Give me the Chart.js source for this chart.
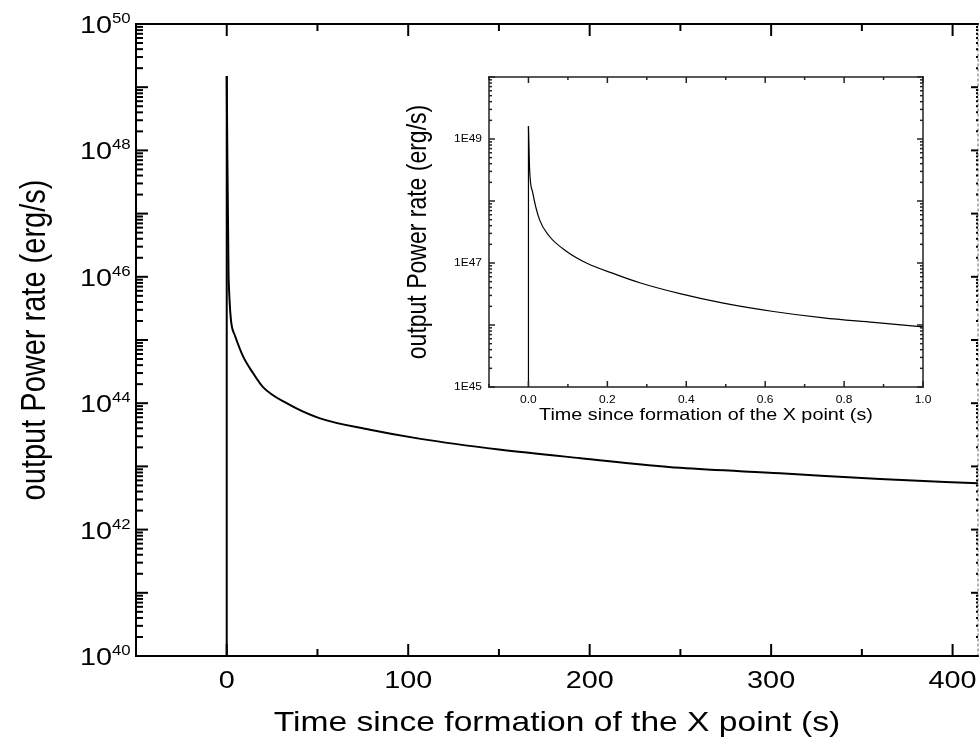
<!DOCTYPE html>
<html>
<head>
<meta charset="utf-8">
<script src="https://cdn.jsdelivr.net/npm/chart.js@4.4.0/dist/chart.umd.min.js"></script>
<style>
    html, body { margin: 0; padding: 0; background: #fff; }
    #wrap { position: relative; width: 979px; height: 745px; overflow: hidden; }
    #main { position: absolute; left: 0; top: 0; }
    #inset { position: absolute; left: 380px; top: 50px; }
</style>
</head>
<body>
<div id="wrap">
    <canvas id="main" width="979" height="745"></canvas>
    <canvas id="inset" width="580" height="390"></canvas>
</div>
<script>
// Main panel: time (s) and output power (erg/s)
const mainTime  = [0,    0,      1,      4.4,    9,      14.5,   20,     33,     51,     79,     106,     150,     195,     250,    305,    360,    414];
const mainPower = [1e40, 1.5e49, 1.0e46, 1.2e45, 5.5e44, 3.0e44, 1.8e44, 1.0e44, 5.8e43, 3.8e43, 2.75e43, 1.85e43, 1.35e43, 9.5e42, 7.8e42, 6.3e42, 5.4e42];

// Inset: first second after formation
const insetTime  = [0,    0,      0.003,  0.011,   0.028, 0.053,  0.096,   0.147, 0.223,  0.282,  0.384,  0.494,   0.621,   0.748,  0.875,  1.0];
const insetPower = [1e45, 1.6e49, 3.2e48, 1.35e48, 5.0e47, 2.7e47, 1.55e47, 1.0e47, 6.5e46, 4.8e46, 3.2e46, 2.25e46, 1.65e46, 1.3e46, 1.1e46, 9.3e45];

// Tick labels
const mainXTicks = [0, 100, 200, 300, 400];
const mainXMinor = [50, 150, 250, 350];
const mainYDecades = [40, 41, 42, 43, 44, 45, 46, 47, 48, 49, 50];
const mainYLabels = [40, 42, 44, 46, 48, 50];
const insetXTicks = ['0.0', '0.2', '0.4', '0.6', '0.8', '1.0'];
const insetXMinor = [-0.1, 0.1, 0.3, 0.5, 0.7, 0.9];
const insetYDecades = [45, 46, 47, 48, 49, 50];
const insetYLabels = ['1E45', '1E47', '1E49'];

const FONT = 'Arial, "Liberation Sans", sans-serif';
const SX = 1.2; // the figure is a little stretched sideways

function drawText(ctx, str, x, y, size, align, base, rot) {
    ctx.save();
    ctx.translate(x, y);
    if (rot) {
        ctx.rotate(rot);
        ctx.scale(1, SX);
    } else {
        ctx.scale(SX, 1);
    }
    ctx.font = size + 'px ' + FONT;
    ctx.fillStyle = '#000';
    ctx.textAlign = align;
    ctx.textBaseline = base;
    ctx.fillText(str, 0, 0);
    ctx.restore();
}

function line(ctx, x1, y1, x2, y2) {
    ctx.beginPath();
    ctx.moveTo(x1, y1);
    ctx.lineTo(x2, y2);
    ctx.stroke();
}

// frame with inward ticks on all four sides
function drawFrame(chart, o) {
    const ctx = chart.ctx, a = chart.chartArea;
    const xs = chart.scales.x, ys = chart.scales.y;
    ctx.save();
    ctx.strokeStyle = o.color || '#000';
    ctx.lineWidth = o.lw;
    ctx.lineCap = 'square';
    line(ctx, a.left, a.top, a.left, a.bottom);
    line(ctx, a.left, a.bottom, a.right, a.bottom);
    line(ctx, a.left, a.top, a.right, a.top);
    if (o.rightDash) {
        ctx.save();
        ctx.lineWidth = 1;
        ctx.strokeStyle = '#666';
        ctx.setLineDash([2, 3]);
        line(ctx, a.right, a.top, a.right, a.bottom);
        ctx.restore();
    } else {
        line(ctx, a.right, a.top, a.right, a.bottom);
    }
    ctx.lineCap = 'butt';
    o.xMajor.forEach(v => {
        const px = xs.getPixelForValue(v);
        line(ctx, px, a.bottom, px, a.bottom - o.major);
        line(ctx, px, a.top, px, a.top + o.major);
    });
    o.xMinor.forEach(v => {
        const px = xs.getPixelForValue(v);
        line(ctx, px, a.bottom, px, a.bottom - o.minor);
        line(ctx, px, a.top, px, a.top + o.minor);
    });
    const rMaj = o.rightDash ? 7 : o.major;
    const rMin = o.rightDash ? 2 : o.minor;
    o.yDecades.forEach((d, i) => {
        const py = ys.getPixelForValue(Number('1e' + d));
        line(ctx, a.left, py, a.left + o.major, py);
        line(ctx, a.right, py, a.right - rMaj, py);
        if (i === o.yDecades.length - 1) return;
        for (let k = 2; k <= 9; k++) {
            const pm = ys.getPixelForValue(k * Number('1e' + d));
            line(ctx, a.left, pm, a.left + o.minor, pm);
            line(ctx, a.right, pm, a.right - rMin, pm);
        }
    });
    ctx.restore();
}

const mainDecor = {
    id: 'mainDecor',
    afterDraw(chart) {
        const ctx = chart.ctx, a = chart.chartArea;
        const xs = chart.scales.x, ys = chart.scales.y;
        drawFrame(chart, {
            lw: 2, major: 12, minor: 7, rightDash: true,
            xMajor: mainXTicks, xMinor: mainXMinor, yDecades: mainYDecades
        });
        mainXTicks.forEach(v => {
            drawText(ctx, String(v), xs.getPixelForValue(v), 688, 24, 'center', 'alphabetic');
        });
        mainYLabels.forEach(d => {
            const py = ys.getPixelForValue(Number('1e' + d));
            drawText(ctx, '10', 112, py + 9, 24, 'right', 'alphabetic');
            drawText(ctx, String(d), 112, py - 1, 14, 'left', 'alphabetic');
        });
        drawText(ctx, 'Time since formation of the X point (s)', (a.left + a.right) / 2, 731, 28, 'center', 'alphabetic');
        drawText(ctx, 'output Power rate (erg/s)', 35, (a.top + a.bottom) / 2, 29, 'center', 'middle', -Math.PI / 2);
    }
};

const insetDecor = {
    id: 'insetDecor',
    afterDraw(chart) {
        const ctx = chart.ctx, a = chart.chartArea;
        const xs = chart.scales.x, ys = chart.scales.y;
        drawFrame(chart, {
            lw: 1.5, major: 6, minor: 3, rightDash: false, color: '#222',
            xMajor: insetXTicks.map(Number), xMinor: insetXMinor, yDecades: insetYDecades
        });
        insetXTicks.forEach(t => {
            drawText(ctx, t, xs.getPixelForValue(Number(t)), 353, 10, 'center', 'alphabetic');
        });
        insetYLabels.forEach(t => {
            const py = ys.getPixelForValue(Number(t.replace('E', 'e')));
            drawText(ctx, t, a.left - 7, py + 0.5, 10, 'right', 'middle');
        });
        drawText(ctx, 'Time since formation of the X point (s)', (a.left + a.right) / 2, 369.5, 16.5, 'center', 'alphabetic');
        drawText(ctx, 'output Power rate (erg/s)', 38, (a.top + a.bottom) / 2, 23, 'center', 'middle', -Math.PI / 2);
    }
};

const mainSpike = mainTime.slice(0, 2).map((t, i) => ({ x: t, y: mainPower[i] }));
const mainCurve = mainTime.slice(1).map((t, i) => ({ x: t, y: mainPower[i + 1] }));
const insetSpike = insetTime.slice(0, 2).map((t, i) => ({ x: t, y: insetPower[i] }));
const insetCurve = insetTime.slice(1).map((t, i) => ({ x: t, y: insetPower[i + 1] }));

function hiddenScales(xMin, xMax, yMin, yMax, w, h) {
    return {
        x: {
            type: 'linear', min: xMin, max: xMax,
            ticks: { display: false }, grid: { display: false }, border: { display: false },
            afterFit: s => { s.height = h; }
        },
        y: {
            type: 'logarithmic', min: yMin, max: yMax,
            ticks: { display: false }, grid: { display: false }, border: { display: false },
            afterFit: s => { s.width = w; }
        }
    };
}

function lineSet(points, width, smooth) {
    return {
        data: points,
        showLine: true,
        borderColor: '#000',
        borderWidth: width,
        pointRadius: 0,
        cubicInterpolationMode: smooth ? 'monotone' : 'default',
        tension: 0
    };
}

new Chart(document.getElementById('main'), {
    type: 'scatter',
    data: {
        datasets: [lineSet(mainSpike, 2, false), lineSet(mainCurve, 2, true)]
    },
    options: {
        responsive: false,
        animation: false,
        layout: { padding: { top: 24, right: 1, left: 0, bottom: 0 } },
        plugins: { legend: { display: false }, tooltip: { enabled: false } },
        scales: hiddenScales(-50, 414, 1e40, 1e50, 136, 89)
    },
    plugins: [mainDecor]
});

new Chart(document.getElementById('inset'), {
    type: 'scatter',
    data: {
        datasets: [lineSet(insetSpike, 1.2, false), lineSet(insetCurve, 1.2, true)]
    },
    options: {
        responsive: false,
        animation: false,
        layout: { padding: { top: 27, right: 37, left: 0, bottom: 0 } },
        plugins: { legend: { display: false }, tooltip: { enabled: false } },
        scales: hiddenScales(-0.1, 1.0, 1e45, 1e50, 109, 53)
    },
    plugins: [insetDecor]
});
</script>
</body>
</html>
